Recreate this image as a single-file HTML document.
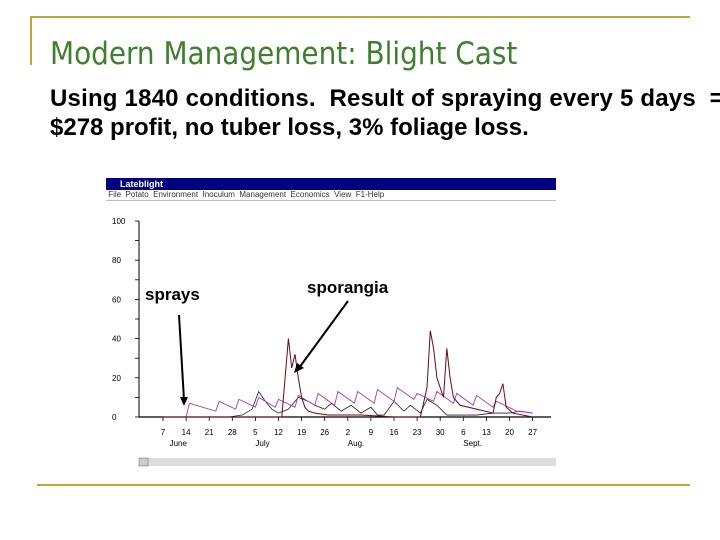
<!DOCTYPE html>
<html><head><meta charset="utf-8"><style>
body{margin:0;width:720px;height:540px;background:#fff;position:relative;overflow:hidden;font-family:"Liberation Sans",sans-serif}
.abs{position:absolute}
</style></head><body>
<div class="abs" style="left:30px;top:16px;width:660px;height:2px;background:#b8a83c"></div>
<div class="abs" style="left:30px;top:16px;width:2px;height:49px;background:#b8a83c"></div>
<div class="abs" style="left:37px;top:484px;width:653px;height:2px;background:#b8a83c"></div>
<div class="abs" style="left:50px;top:36px;font-size:31px;color:#3f7f2f;font-family:'DejaVu Sans Condensed','Liberation Sans Narrow',sans-serif;white-space:nowrap">Modern Management: Blight Cast</div>
<div class="abs" style="left:50px;top:84px;font-size:24px;font-weight:bold;line-height:29px;white-space:nowrap;letter-spacing:0.2px">Using 1840 conditions.&nbsp; Result of spraying every 5 days&nbsp; =<br><span style="letter-spacing:0">$278 profit, no tuber loss, 3% foliage loss.</span></div>
<div class="abs" style="left:106px;top:178px;width:450px;height:12px;background:#000080;color:#fff;font-size:9px;font-weight:bold;line-height:12px;padding-left:14px;box-sizing:border-box">Lateblight</div>
<div class="abs" style="left:106px;top:190px;width:450px;height:10px;border-bottom:1px solid #bbb;font-size:8px;line-height:10px;color:#333;white-space:nowrap">&nbsp;File &nbsp;Potato &nbsp;Environment &nbsp;Inoculum &nbsp;Management &nbsp;Economics &nbsp;View &nbsp;F1-Help</div>
<svg class="abs" style="left:0;top:0" width="720" height="540">
<g id="g"></g>
<rect x="139" y="458" width="417" height="8" fill="#ddd"/>
<rect x="139" y="458" width="9" height="8" fill="#ccc" stroke="#666" stroke-width="0.5"/>
<text x="145" y="300" font-size="17" font-weight="bold" font-family="Liberation Sans,sans-serif">sprays</text>
<text x="307" y="293" font-size="17" font-weight="bold" font-family="Liberation Sans,sans-serif">sporangia</text>
<line x1="179" y1="315" x2="184" y2="400" stroke="#000" stroke-width="2"/>
<polygon points="180,397 188,397 184,406" fill="#000"/>
<line x1="348" y1="301" x2="299" y2="368" stroke="#000" stroke-width="2"/>
<polygon points="294,373 297,363 304,368" fill="#000"/>
</svg>
<script>
const yTicks=[0,20,40,60,80,100];
const xDays=[0,7,14,21,28,35,42,49,56,63,70,77,84,91,98,105,112];
const xLabels=["7","14","21","28","5","12","19","26","2","9","16","23","30","6","13","20","27"];
const months=["June","July","Aug.","Sept."];
const monthDays=[2,28,56,91];
const magDays=[0,7,8,16,17,22,23,28,29,34,35,40,41,46,47,52,53,58,59,64,65,70,71,76,77,82,83,88,89,94,95,100,101,106,107,112];
const magVals=[0,0,7,3,8,4,9,5,10,5,9,5,11,6,12,6,13,7,13,7,14,8,15,9,12,8,13,7,12,6,11,5,8,4,3,2];
const brnDays=[0,36,37,38,39,40,41,42,43,44,46,50,55,60,70,78,80,81,82,83,84,85,86,87,88,90,95,100,101,102,103,104,106,112];
const brnVals=[0,0,20,40,25,32,20,10,5,3,2,1,1,1,0,0,15,44,35,20,15,10,35,20,10,6,4,2,10,12,17,5,2,0];
const blkDays=[0,20,24,27,29,31,33,35,38,41,44,46,49,51,54,57,60,63,65,67,70,73,75,78,80,83,86,90,95,100,105,108,112];
const blkVals=[0,0,1,4,13,8,4,2,4,10,8,6,4,7,3,6,2,5,1,1,8,3,6,2,9,6,1,1,1,2,2,3,2];
const X=d=>163+d*3.3, Y=v=>417-v*1.96;
const g=document.getElementById('g'),NS='http://www.w3.org/2000/svg';
function mk(t,a){const e=document.createElementNS(NS,t);for(const k in a)e.setAttribute(k,a[k]);g.appendChild(e);return e;}
let e=mk('line',{x1:139,y1:Y(0),x2:551,y2:Y(0),stroke:'#000','stroke-width':1.2});


e=mk('line',{x1:139,y1:Y(0),x2:139,y2:Y(100),stroke:'#000','stroke-width':1});


for(let v=0;v<=100;v+=10){mk('line',{x1:135,x2:139,y1:Y(v),y2:Y(v),stroke:'#000','stroke-width':0.8});}
yTicks.forEach(v=>{e=mk('text',{x:112,y:Y(v)+3,'font-size':8,'font-family':'Liberation Sans'});e.textContent=v;

});
xDays.forEach((d,i)=>{mk('line',{x1:X(d),x2:X(d),y1:Y(0),y2:Y(0)+4,stroke:'#000','stroke-width':0.8});
e=mk('text',{x:X(d),y:435,'font-size':8,'text-anchor':'middle','font-family':'Liberation Sans'});e.textContent=xLabels[i];

});
months.forEach((m,i)=>{e=mk('text',{x:X(monthDays[i]),y:446,'font-size':8,'font-family':'Liberation Sans'});e.textContent=m;

});
function series(ds,vs,col,w,name){const p=ds.map((d,i)=>X(d)+','+Y(vs[i])).join(' ');
const l=mk('polyline',{points:p,fill:'none',stroke:col,'stroke-width':w});

}
series(blkDays,blkVals,'#222',0.8,'black-series');
series(magDays,magVals,'#a040a0',0.9,'spray-residue-series');
series(brnDays,brnVals,'#6a0a10',1,'sporangia-series');
</script>
</body></html>
